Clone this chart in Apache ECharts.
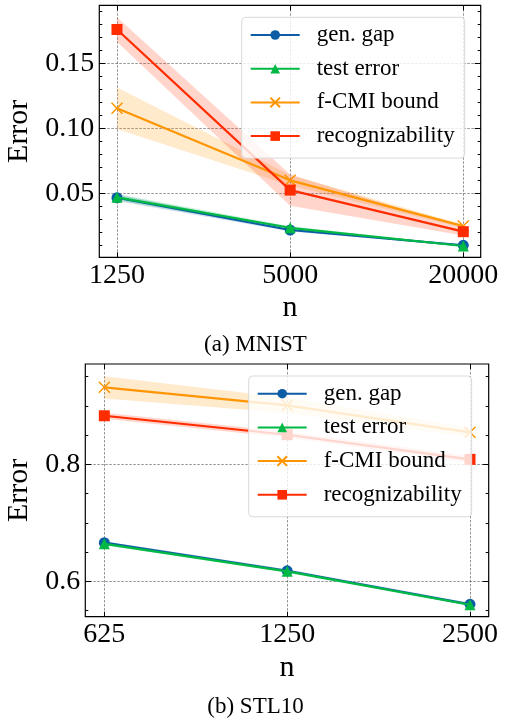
<!DOCTYPE html>
<html>
<head>
<meta charset="utf-8">
<script src="https://cdn.jsdelivr.net/npm/echarts@6/dist/echarts.min.js"></script>
<style>
  html, body { margin: 0; padding: 0; background: #fff; }
  #main { width: 505px; height: 720px; }
</style>
</head>
<body>
<div id="main"></div>
<script>
// ---- data ----
var seriesNames = ['gen. gap', 'test error', 'f-CMI bound', 'recognizability'];

var mnistN = [1250, 5000, 20000];
var mnistGap = [0.0466, 0.0218, 0.0100];
var mnistTest = [0.0469, 0.0235, 0.0095];
var mnistBound = [0.1154, 0.0600, 0.0248];
var mnistRecog = [0.1760, 0.0525, 0.0205];
var mnistGapStd = [0.0025, 0.0012, 0.0006];
var mnistTestStd = [0.0025, 0.0012, 0.0006];
var mnistBoundStd = [0.0160, 0.0040, 0.0012];
var mnistRecogStd = [0.0095, 0.0120, 0.0030];

var stlN = [625, 1250, 2500];
var stlGap = [0.6660, 0.6180, 0.5607];
var stlTest = [0.6640, 0.6170, 0.5600];
var stlBound = [0.9316, 0.9009, 0.8547];
var stlRecog = [0.8830, 0.8506, 0.8085];
var stlGapStd = [0.0025, 0.0025, 0.0025];
var stlTestStd = [0.0025, 0.0025, 0.0025];
var stlBoundStd = [0.0190, 0.0130, 0.0080];
var stlRecogStd = [0.0050, 0.0050, 0.0060];

var mnistMajor = [0.05, 0.10, 0.15];
var mnistMinor = [0.01, 0.02, 0.03, 0.04, 0.06, 0.07, 0.08, 0.09, 0.11, 0.12, 0.13, 0.14, 0.16, 0.17, 0.18, 0.19];
var stlMajor = [0.6, 0.8];
var stlMinor = [0.55, 0.65, 0.70, 0.75, 0.85, 0.90, 0.95];

// ---- style ----
var colors = ['#0C5DA5', '#00B945', '#FF9500', '#FF2C00'];
var bands = ['rgba(12,93,165,0.2)', 'rgba(0,185,69,0.2)', 'rgba(255,149,0,0.2)', 'rgba(255,44,0,0.2)'];
var symbols = ['circle', 'triangle', 'path://M0,0L10,10M10,0L0,10', 'rect'];
var serif = 'Liberation Serif';
var gridLine = { show: true, lineStyle: { color: 'rgba(0,0,0,0.6)', width: 0.7, type: [2.5, 1.5] } };

function xAxes(gi, ticks, min, max) {
  return [
    { type: 'log', gridIndex: gi, min: min, max: max, position: 'bottom',
      axisLine: { show: false },
      axisTick: { show: true, inside: true, length: 5, customValues: ticks, lineStyle: { color: '#000', width: 1 } },
      axisLabel: { customValues: ticks, fontFamily: serif, fontSize: 28, color: '#000', margin: 4,
                   formatter: function (v) { return String(Math.round(v)); } },
      minorTick: { show: false }, splitLine: gridLine,
      name: 'n', nameLocation: 'middle', nameGap: 36,
      nameTextStyle: { fontFamily: serif, fontSize: 30, color: '#000' } },
    { type: 'log', gridIndex: gi, min: min, max: max, position: 'top',
      axisLine: { show: false },
      axisTick: { show: true, inside: true, length: 5, customValues: ticks, lineStyle: { color: '#000', width: 1 } },
      axisLabel: { show: false }, splitLine: { show: false } }
  ];
}

function yAxes(gi, major, minor, min, max, labelFmt, nameGap) {
  var tickStyle = { color: '#000', width: 1 };
  return [
    { type: 'value', gridIndex: gi, min: min, max: max, position: 'left',
      axisLine: { show: false },
      axisTick: { show: true, inside: true, length: 6, customValues: major, lineStyle: tickStyle },
      axisLabel: { customValues: major, fontFamily: serif, fontSize: 28, color: '#000', margin: 5, formatter: labelFmt },
      splitLine: gridLine,
      name: 'Error', nameLocation: 'middle', nameGap: nameGap,
      nameTextStyle: { fontFamily: serif, fontSize: 30, color: '#000' } },
    { type: 'value', gridIndex: gi, min: min, max: max, position: 'left',
      axisLine: { show: false },
      axisTick: { show: true, inside: true, length: 3, customValues: minor, lineStyle: tickStyle },
      axisLabel: { show: false }, splitLine: { show: false } },
    { type: 'value', gridIndex: gi, min: min, max: max, position: 'right',
      axisLine: { show: false },
      axisTick: { show: true, inside: true, length: 6, customValues: major, lineStyle: tickStyle },
      axisLabel: { show: false }, splitLine: { show: false } },
    { type: 'value', gridIndex: gi, min: min, max: max, position: 'right',
      axisLine: { show: false },
      axisTick: { show: true, inside: true, length: 3, customValues: minor, lineStyle: tickStyle },
      axisLabel: { show: false }, splitLine: { show: false } }
  ];
}

function pairs(xs, ys) {
  return xs.map(function (x, i) { return [x, ys[i]]; });
}

// shaded band: one polygon through upper points and back along lower points
function bandRender(params, api) {
  if (params.dataIndexInside !== 0) return null;
  var n = params.dataInsideLength;
  var upper = [], lower = [];
  for (var j = 0; j < n; j++) {
    var x = api.value(0, j);
    upper.push(api.coord([x, api.value(2, j)]));
    lower.push(api.coord([x, api.value(1, j)]));
  }
  return {
    type: 'polygon',
    shape: { points: upper.concat(lower.reverse()) },
    style: { fill: api.visual('color') }
  };
}

function makeSeries(gi, xs, vals, stds) {
  var out = [];
  var xi = gi * 2, yi = gi * 4;
  vals.forEach(function (v, k) {
    var rows = xs.map(function (x, i) { return [x, v[i] - stds[k][i], v[i] + stds[k][i]]; });
    out.push({ type: 'custom', name: '_band' + gi + k, xAxisIndex: xi, yAxisIndex: yi,
      data: rows, encode: { x: 0, y: [1, 2] }, silent: true, z: 1,
      itemStyle: { color: bands[k] },
      renderItem: bandRender });
  });
  vals.forEach(function (v, k) {
    out.push({ type: 'line', name: seriesNames[k], xAxisIndex: xi, yAxisIndex: yi,
      data: pairs(xs, v), symbol: symbols[k], symbolSize: 11, showSymbol: true,
      lineStyle: { color: colors[k], width: 2.2 },
      itemStyle: { color: colors[k], borderColor: colors[k], borderWidth: k === 2 ? 1.5 : 0 },
      z: 3 + k });
  });
  return out;
}

function legend(left, top) {
  return {
    data: seriesNames, orient: 'vertical', left: left, top: top,
    itemWidth: 49, itemHeight: 12, itemGap: 9.7,
    padding: [5.7, 10, 10, 8],
    backgroundColor: 'rgba(255,255,255,0.8)', borderColor: '#d9d9d9', borderWidth: 1, borderRadius: 4,
    selectedMode: false,
    textStyle: { fontFamily: serif, fontSize: 23, color: '#000', lineHeight: 24, padding: [0, 0, 0, 12] },
    z: 10
  };
}

var chart = echarts.init(document.getElementById('main'), null, { renderer: 'canvas' });

var option = {
  animation: false,
  backgroundColor: '#fff',
  grid: [
    { left: 99.3, top: 5.3, width: 381.4, height: 252, show: true, borderColor: '#000', borderWidth: 1.2,
      backgroundColor: 'transparent', outerBoundsMode: 'none', containLabel: false },
    { left: 85.3, top: 364, width: 403.4, height: 252.7, show: true, borderColor: '#000', borderWidth: 1.2,
      backgroundColor: 'transparent', outerBoundsMode: 'none', containLabel: false }
  ],
  xAxis: xAxes(0, mnistN, 1085, 22990).concat(xAxes(1, stlN, 581.5, 2683.7)),
  yAxis: yAxes(0, mnistMajor, mnistMinor, 0.0008, 0.1946, function (v) { return v.toFixed(2); }, 59)
    .concat(yAxes(1, stlMajor, stlMinor, 0.5395, 0.9715, function (v) { return v.toFixed(1); }, 44)),
  legend: [legend(241.7, 17.3), legend(248.7, 376)],
  series: makeSeries(0, mnistN, [mnistGap, mnistTest, mnistBound, mnistRecog],
                     [mnistGapStd, mnistTestStd, mnistBoundStd, mnistRecogStd])
    .concat(makeSeries(1, stlN, [stlGap, stlTest, stlBound, stlRecog],
                       [stlGapStd, stlTestStd, stlBoundStd, stlRecogStd])),
  graphic: [
    { type: 'text', x: 255.5, y: 345, style: { text: '(a) MNIST', font: '23px "Liberation Serif"', fill: '#000',
      align: 'center', verticalAlign: 'middle' } },
    { type: 'text', x: 255.5, y: 707, style: { text: '(b) STL10', font: '23px "Liberation Serif"', fill: '#000',
      align: 'center', verticalAlign: 'middle' } }
  ]
};

chart.setOption(option);
</script>
</body>
</html>
